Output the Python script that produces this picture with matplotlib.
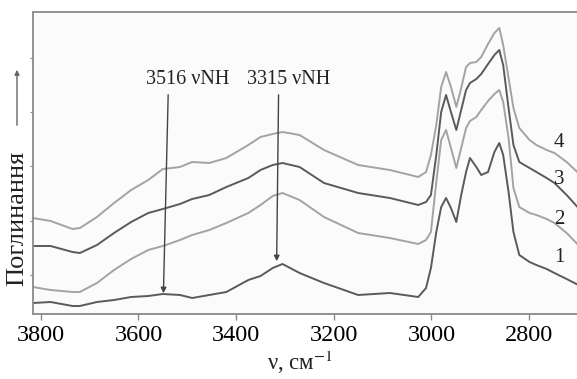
import matplotlib
matplotlib.use("Agg")
import matplotlib.pyplot as plt

plt.rcParams['font.family'] = ['Liberation Serif', 'DejaVu Serif']
plt.rcParams['mathtext.fontset'] = 'stix'

# wavenumbers (cm^-1)
wavenumber = [3816, 3780, 3735, 3720, 3685, 3650, 3615, 3580, 3550, 3515, 3490,
              3455, 3420, 3375, 3350, 3325, 3305, 3270, 3220, 3150, 3085,
              3027, 3011, 3001, 2990, 2980, 2970, 2960, 2949, 2939, 2929, 2921,
              2908, 2898, 2884, 2871, 2861, 2853, 2842, 2832, 2820, 2799, 2785,
              2764, 2748, 2723, 2699]

curve1 = [0.11, 0.12, 0.08, 0.08, 0.12, 0.14, 0.17, 0.18, 0.20, 0.19, 0.16,
          0.19, 0.22, 0.34, 0.38, 0.46, 0.50, 0.41, 0.31, 0.19, 0.21,
          0.17, 0.26, 0.46, 0.82, 1.07, 1.16, 1.06, 0.92, 1.19, 1.42, 1.56,
          1.47, 1.39, 1.42, 1.62, 1.71, 1.59, 1.22, 0.82, 0.59, 0.52, 0.49,
          0.45, 0.41, 0.35, 0.29]
curve2 = [0.27, 0.24, 0.22, 0.22, 0.31, 0.44, 0.55, 0.64, 0.68, 0.74, 0.79,
          0.84, 0.91, 1.01, 1.09, 1.18, 1.21, 1.14, 0.97, 0.81, 0.76,
          0.70, 0.74, 0.82, 1.32, 1.74, 1.84, 1.66, 1.46, 1.66, 1.86, 1.93,
          1.97, 2.04, 2.13, 2.20, 2.24, 2.12, 1.76, 1.26, 1.07, 1.01, 0.99,
          0.95, 0.91, 0.81, 0.69]
curve3 = [0.68, 0.68, 0.62, 0.61, 0.69, 0.81, 0.92, 1.01, 1.05, 1.10, 1.15,
          1.19, 1.27, 1.36, 1.44, 1.49, 1.51, 1.47, 1.31, 1.21, 1.16,
          1.09, 1.12, 1.19, 1.59, 2.02, 2.19, 2.02, 1.84, 2.04, 2.24, 2.31,
          2.35, 2.40, 2.50, 2.59, 2.64, 2.49, 2.06, 1.69, 1.52, 1.46, 1.42,
          1.36, 1.31, 1.19, 1.06]
curve4 = [0.96, 0.93, 0.85, 0.86, 0.97, 1.11, 1.24, 1.34, 1.45, 1.47, 1.52,
          1.51, 1.56, 1.69, 1.77, 1.80, 1.82, 1.79, 1.64, 1.49, 1.44,
          1.37, 1.42, 1.59, 1.89, 2.27, 2.42, 2.27, 2.07, 2.26, 2.47, 2.51,
          2.52, 2.57, 2.70, 2.81, 2.86, 2.69, 2.36, 2.06, 1.86, 1.74, 1.69,
          1.64, 1.61, 1.52, 1.41]

curve_labels = ["1", "2", "3", "4"]
label_y = [0.56, 0.94, 1.34, 1.71]
xticks = [3800, 3600, 3400, 3200, 3000, 2800]
yticks = [0.39, 0.93, 1.48, 2.02, 2.56]

dark = "#5a5a5a"
light = "#a3a3a3"

fig = plt.figure(figsize=(5.77, 3.79), dpi=100)
ax = fig.add_axes([33/577, 65/379, 1 - 33/577 + 0.01, 302/379])
ax.set_facecolor("#fbfbfb")

for ys, c in zip([curve1, curve2, curve3, curve4], [dark, light, dark, light]):
    ax.plot(wavenumber, ys, color=c, lw=1.4, solid_joinstyle='round')

ax.set_xlim(3816, 2690)
ax.set_ylim(0, 3.02)
ax.set_xticks(xticks)
ax.set_xticklabels([str(t) for t in xticks], fontsize=17.5)
ax.set_yticks(yticks)
ax.set_yticklabels([])
ax.tick_params(axis='x', direction='out', length=4, width=1, color="#888888", pad=4)
ax.tick_params(axis='y', direction='out', length=2, width=0.8, color="#888888")
for s in ['left', 'bottom', 'top']:
    ax.spines[s].set_color("#8a8a8a")
    ax.spines[s].set_linewidth(1.3)
ax.spines['right'].set_visible(False)

for lab, y in zip(curve_labels, label_y):
    ax.text(2738, y, lab, fontsize=15, ha='center', va='center', color="#222222")

arrow_kw = dict(arrowstyle='-|>', color="#444444", lw=1.0, mutation_scale=8)
ax.annotate("", xy=(3549, 0.18), xytext=(3539, 2.22), arrowprops=arrow_kw)
ax.annotate("", xy=(3317, 0.50), xytext=(3313, 2.22), arrowprops=arrow_kw)
ax.text(3500, 2.35, "3516 νNH", fontsize=14.5, ha='center', va='center', color="#222222")
ax.text(3292, 2.35, "3315 νNH", fontsize=14.5, ha='center', va='center', color="#222222")

fig.text(17/577, 1 - 218/379, "Поглинання", rotation=90, fontsize=19,
         ha='center', va='center', color="#222222")
fig.add_artist(matplotlib.patches.FancyArrowPatch(
    (17/577, 1 - 128/379), (17/577, 1 - 67/379), transform=fig.transFigure,
    arrowstyle='-|>', mutation_scale=7, color="#666666", lw=1.0))
fig.text(300/577, 1 - 362/379, "ν, см$^{-1}$", fontsize=16.5, ha='center', va='center',
         color="#222222")

fig.savefig("out.png", dpi=100)
